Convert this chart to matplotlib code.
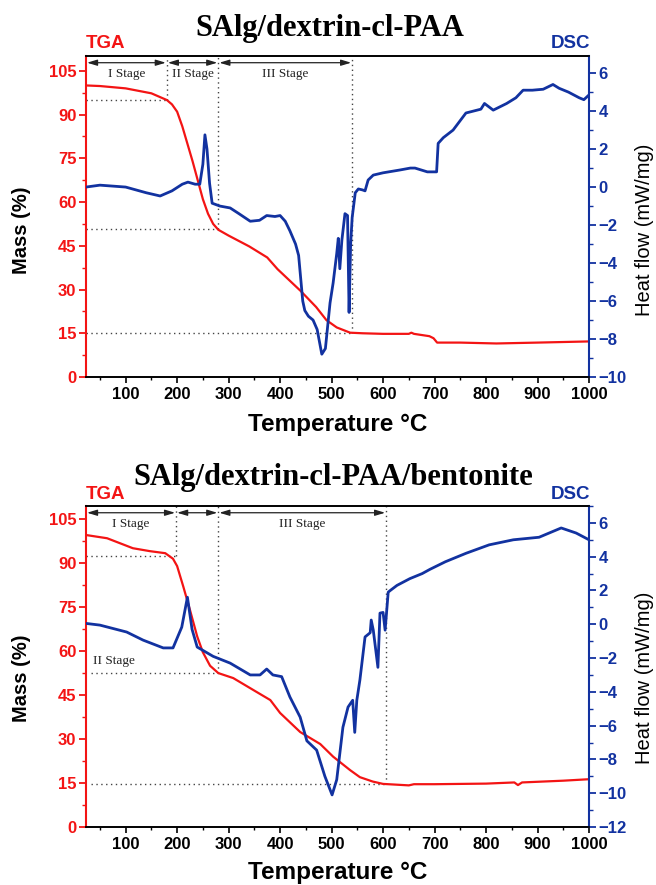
import matplotlib
matplotlib.use("Agg")
import matplotlib.pyplot as plt
from matplotlib.ticker import MultipleLocator

plt.rcParams['font.family'] = ['Liberation Sans', 'DejaVu Sans']

RED = '#f31414'
BLUE = '#1232a0'

# ---------------- data: SAlg/dextrin-cl-PAA ----------------
tga1_T = [23, 50, 100, 150, 180, 190, 200, 210, 220, 230, 240, 250, 260, 270, 280, 300, 340, 375,
          395, 440, 470, 490, 510, 536, 560, 600, 650, 655, 660, 690, 698, 705, 750, 820, 900, 1000]
tga1_m = [100, 99.8, 99, 97.3, 95, 93.5, 91, 86, 80, 74, 67.5, 61, 56, 52.5, 50.5, 48.5, 44.8, 41,
          37, 29.5, 24, 19.5, 17, 15.2, 15, 14.8, 14.8, 15.2, 14.8, 14, 13.3, 11.8, 11.8, 11.5, 11.8, 12.2]

dsc1_T = [23, 50, 100, 140, 167, 190, 210, 221, 235, 244, 250, 254, 258, 263, 268, 283, 303, 320,
          342, 360, 374, 390, 400, 410, 419, 430, 436, 440, 444, 448, 455, 464, 472, 481, 488, 497,
          503, 510, 513, 516, 520, 526, 531, 534, 537, 540, 546, 552, 560, 565, 571, 581, 600, 633,
          653, 662, 686, 704, 707, 717, 736, 761, 790, 797, 814, 840, 858, 872, 890, 911, 930, 942,
          960, 981, 990, 1000]
dsc1_h = [0.0, 0.1, 0.0, -0.3, -0.47, -0.2, 0.15, 0.26, 0.15, 0.15, 1.2, 2.75, 2.0, 0.2, -0.85,
          -1.0, -1.1, -1.4, -1.8, -1.75, -1.5, -1.55, -1.5, -1.8, -2.3, -3.0, -3.6, -4.8, -6.0,
          -6.5, -6.8, -7.0, -7.5, -8.8, -8.5, -6.1, -5.05, -3.5, -2.7, -4.3, -2.8, -1.4, -1.5,
          -6.6, -3.0, -1.6, -0.3, -0.1, -0.15, -0.2, 0.37, 0.63, 0.75, 0.9, 1.0, 1.0, 0.8, 0.8,
          2.3, 2.6, 3.0, 3.9, 4.1, 4.4, 4.05, 4.4, 4.7, 5.1, 5.1, 5.15, 5.4, 5.2, 5.0, 4.7, 4.6, 4.85]

# stage boundaries (°C) and the mass levels of the guide lines
stages1 = [180, 280, 540]
levels1 = [95, 50.8, 15]

# ---------------- data: SAlg/dextrin-cl-PAA/bentonite ----------------
tga2_T = [23, 64, 114, 147, 177, 192, 200, 212, 225, 239, 250, 264, 280, 309, 355, 381, 400, 439,
          478, 503, 536, 555, 580, 600, 620, 650, 660, 700, 800, 855, 862, 870, 950, 1000]
tga2_m = [99.6, 98.5, 95.1, 94.1, 93.4, 91.5, 89, 82, 74, 65, 59.6, 55, 52.5, 50.8, 46, 43.3,
          38.9, 32.4, 28.3, 24, 19.4, 17, 15.5, 14.7, 14.5, 14.2, 14.6, 14.6, 14.8, 15.2, 14.3,
          15.2, 15.8, 16.3]

dsc2_T = [23, 50, 102, 134, 173, 192, 209, 220, 229, 239, 270, 303, 342, 361, 374, 386, 403, 419,
          439, 452, 471, 487, 501, 510, 522, 532, 541, 545, 549, 555, 565, 575, 577, 581, 590, 594,
          600, 604, 610, 614, 627, 652, 676, 691, 721, 761, 806, 853, 903, 946, 975, 1000]
dsc2_h = [0.05, -0.05, -0.46, -0.94, -1.4, -1.4, -0.17, 1.6, -0.3, -1.35, -1.9, -2.3, -3.0, -3.0,
          -2.65, -3.0, -3.1, -4.3, -5.5, -6.9, -7.45, -9.0, -10.1, -9.2, -6.1, -4.9, -4.5, -6.4,
          -4.5, -3.3, -0.75, -0.5, 0.25, -0.35, -2.55, 0.66, 0.7, -0.35, 1.9, 2.0, 2.3, 2.7, 3.0,
          3.25, 3.7, 4.2, 4.7, 5.0, 5.15, 5.7, 5.4, 5.0]

stages2 = [198, 280, 606]
levels2 = [92.4, 52.5, 14.7]

titles = ['SAlg/dextrin-cl-PAA', 'SAlg/dextrin-cl-PAA/bentonite']
stage_labels = ['I Stage', 'II Stage', 'III Stage']

W, H = 656, 885
fig = plt.figure(figsize=(W / 100, H / 100), dpi=100)


def fx(px):
    return px / W


def fy(py):
    return 1 - py / H


def panel(top_px, bot_px, tT, tm, dT, dh, stages, levels, mass_top, dsc_lim, second_label_left):
    ax = fig.add_axes([fx(86), fy(bot_px), fx(589) - fx(86), (bot_px - top_px) / H])
    ax2 = ax.twinx()
    ax.set_xlim(23, 1000)
    ax.set_ylim(0, mass_top)
    ax2.set_ylim(*dsc_lim)

    ax.plot(tT, tm, color=RED, lw=1.6, zorder=3)
    ax2.plot(dT, dh, color=BLUE, lw=2.0, zorder=3)

    for a in (ax, ax2):
        a.spines['top'].set_color('black')
        a.spines['bottom'].set_color('black')
        a.spines['top'].set_linewidth(1.2)
        a.spines['bottom'].set_linewidth(1.2)
    ax.spines['left'].set_color(RED)
    ax.spines['left'].set_linewidth(1.5)
    ax.spines['right'].set_visible(False)
    ax2.spines['left'].set_visible(False)
    ax2.spines['right'].set_color(BLUE)
    ax2.spines['right'].set_linewidth(1.5)

    ax.xaxis.set_major_locator(MultipleLocator(100))
    ax.xaxis.set_minor_locator(MultipleLocator(50))
    ax.yaxis.set_major_locator(MultipleLocator(15))
    ax.yaxis.set_minor_locator(MultipleLocator(7.5))
    ax2.yaxis.set_major_locator(MultipleLocator(2))
    ax2.yaxis.set_minor_locator(MultipleLocator(1))

    ax.tick_params(axis='x', which='major', direction='out', length=4, width=1.2,
                   labelsize=12, colors='black', pad=3)
    ax.tick_params(axis='x', which='minor', direction='out', length=2.5, width=1.0)
    ax.tick_params(axis='y', which='major', direction='out', length=5, width=1.3,
                   labelsize=12, colors=RED, pad=2)
    ax.tick_params(axis='y', which='minor', direction='out', length=3, width=1.0, colors=RED)
    ax2.tick_params(axis='y', which='major', direction='out', length=5, width=1.3,
                    labelsize=12, colors=BLUE, pad=2)
    ax2.tick_params(axis='y', which='minor', direction='out', length=3, width=1.0, colors=BLUE)
    ax.set_xticks([t for t in range(100, 1001, 100)])
    for lab in ax.get_xticklabels() + ax.get_yticklabels() + ax2.get_yticklabels():
        lab.set_fontweight('bold')

    # guide lines
    dot = dict(color='#444444', lw=1.0, ls=(0, (1, 2.5)), zorder=2)
    x0s = [23, second_label_left, second_label_left]
    for s, lv, x0 in zip(stages, levels, x0s):
        ax.plot([s, s], [lv, mass_top], **dot)
        ax.plot([x0, s], [lv, lv], **dot)

    # stage arrows
    arrow_y = mass_top - 2.3
    bounds = [23] + stages
    for i in range(3):
        ax.annotate('', xy=(bounds[i + 1] - 2, arrow_y), xytext=(bounds[i] + 2, arrow_y),
                    arrowprops=dict(arrowstyle='<|-|>,head_length=0.6,head_width=0.18',
                                    color='#222222', lw=0.9, shrinkA=0, shrinkB=0))
    return ax, ax2, bounds, arrow_y


# top panel
ax, ax2, b, ay = panel(56, 377, tga1_T, tga1_m, dsc1_T, dsc1_h, stages1, levels1, 110.1,
                       (-10, 6.9), 23)
for i in range(3):
    ax.text((b[i] + b[i + 1]) / 2, ay - 4.0, stage_labels[i], family='Liberation Serif',
            fontsize=9.5, ha='center', va='center', color='#222222')

# bottom panel
bx, bx2, b2, ay2 = panel(506, 827, tga2_T, tga2_m, dsc2_T, dsc2_h, stages2, levels2, 109.5,
                         (-12, 7.0), 33)
bx.text((b2[0] + b2[1]) / 2, ay2 - 3.9, stage_labels[0], family='Liberation Serif',
        fontsize=9.5, ha='center', va='center', color='#222222')
bx.text((b2[2] + b2[3]) / 2, ay2 - 3.9, stage_labels[2], family='Liberation Serif',
        fontsize=9.5, ha='center', va='center', color='#222222')
bx.text(37, 56.5, stage_labels[1], family='Liberation Serif', fontsize=9.5,
        ha='left', va='center', color='#222222')

# figure-level texts
for (tx, ty), t in zip([(329.5, 36), (333.5, 485)], titles):
    fig.text(fx(tx), fy(ty), t, family='Liberation Serif', fontweight='bold', fontsize=22,
             ha='center', va='baseline')
for ty in (43, 495):
    fig.text(fx(86), fy(ty), 'TGA', color=RED, fontweight='bold', fontsize=13.5,
             ha='left', va='center')
    fig.text(fx(590), fy(ty), 'DSC', color=BLUE, fontweight='bold', fontsize=13.5,
             ha='right', va='center')
for ty in (424, 873):
    fig.text(fx(338), fy(ty), 'Temperature °C', fontweight='bold', fontsize=17.5,
             ha='center', va='center')
for ty in (230, 678):
    fig.text(fx(22), fy(ty), 'Mass (%)', fontweight='bold', fontsize=14.5, rotation=90,
             ha='center', va='center')
    fig.text(fx(645), fy(ty), 'Heat flow (mW/mg)', fontsize=14.5, rotation=90,
             ha='center', va='center')

fig.savefig('out.png', dpi=100)
